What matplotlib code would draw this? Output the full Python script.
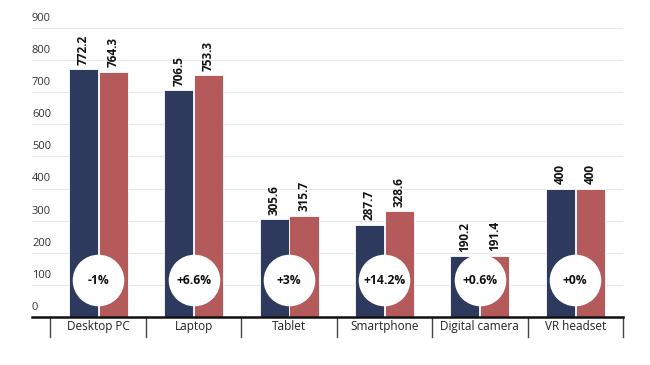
import matplotlib.pyplot as plt
import numpy as np

categories = ["Desktop PC", "Laptop", "Tablet", "Smartphone", "Digital camera", "VR headset"]
values_a = [772.2, 706.5, 305.6, 287.7, 190.2, 400]
values_b = [764.3, 753.3, 315.7, 328.6, 191.4, 400]
changes = ["-1%", "+6.6%", "+3%", "+14.2%", "+0.6%", "+0%"]
yticks = [0, 100, 200, 300, 400, 500, 600, 700, 800, 900]

navy = "#2d3a5d"
red = "#b55a5b"
plt.rcParams["font.family"] = ["Open Sans", "DejaVu Sans"]

fig = plt.figure(figsize=(6.5, 3.65), dpi=100)
ax = fig.add_axes([32 / 650, 1 - 317 / 365, (623 - 32) / 650, (317 - 28) / 365])

x = np.arange(len(categories))
w = 0.305
off = 0.157
ax.bar(x - off, values_a, w, color=navy, edgecolor="white", linewidth=0.6, zorder=2)
ax.bar(x + off, values_b, w, color=red, edgecolor="white", linewidth=0.6, zorder=2)

for xi, a, b in zip(x, values_a, values_b):
    for xx, v in ((xi - off, a), (xi + off, b)):
        ax.annotate(f"{v:g}", (xx, v), xytext=(0, 3), textcoords="offset points",
                    rotation=90, ha="center", va="bottom", fontsize=8.5,
                    fontweight="bold", color="#111111")

# white circles with the change in percent
circle_y = 115
ax.scatter(x, [circle_y] * len(x), s=1380, color="white", zorder=3, linewidths=0)
for xi, c in zip(x, changes):
    ax.text(xi, circle_y, c, ha="center", va="center", fontsize=8.7,
            fontweight="bold", color="#111111", zorder=4)

ax.set_xlim(-0.5 - 18.5 / 95.5, 5.5)
ax.set_ylim(0, 900)
for s in ["left", "right", "top"]:
    ax.spines[s].set_visible(False)
ax.spines["bottom"].set_linewidth(1.8)
ax.spines["bottom"].set_color("#111111")
ax.set_xticks([])
ax.set_yticks([])

for t in yticks:
    if t > 0:
        ax.axhline(t, color="#e8e8e8", linewidth=0.8, zorder=0)
    ax.annotate(str(t), (0, t), xycoords=("axes fraction", "data"), xytext=(0, 3),
                textcoords="offset points", ha="left", va="bottom", fontsize=8,
                color="#333333")

# category separators and labels below the axis
for sep in np.arange(-0.5, len(categories), 1.0):
    ax.plot([sep, sep], [0, -62], color="#444444", linewidth=1.0, clip_on=False, zorder=1)
for xi, c in zip(x, categories):
    ax.text(xi, -31, c, ha="center", va="center", fontsize=8.5, color="#222222")

fig.savefig("out.png", dpi=100)
